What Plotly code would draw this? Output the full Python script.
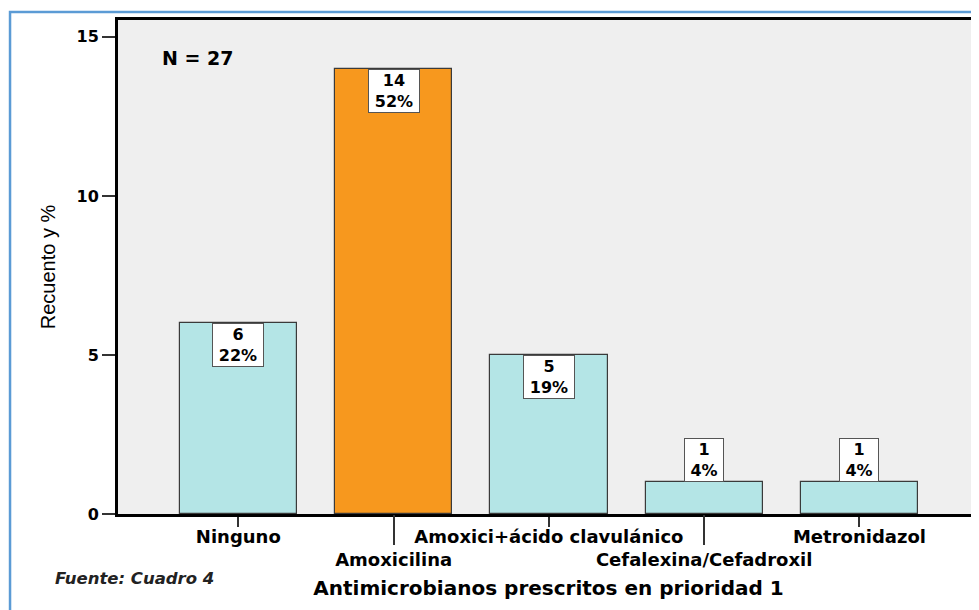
import plotly.graph_objects as go

# ---- data ----
categories = ["Ninguno", "Amoxicilina", "Amoxici+ácido clavulánico",
              "Cefalexina/Cefadroxil", "Metronidazol"]
counts = [6, 14, 5, 1, 1]
percents = [22, 52, 19, 4, 4]
label_row = [0, 1, 0, 1, 0]          # staggered category labels (0 = first line, 1 = second line)
highlight = [False, True, False, False, False]
y_ticks = [0, 5, 10, 15]
n_total = 27

# ---- styles ----
TEAL = "#B4E5E6"
ORANGE = "#F7981E"
PLOT_BG = "#EFEFEF"
BOLD = "DejaVu Sans"

xs = list(range(len(categories)))
colors = [ORANGE if h else TEAL for h in highlight]
ticktext = [("<br>" + c) if r else c for c, r in zip(categories, label_row)]
stagger_x = [x for x, r in zip(xs, label_row) if r]

fig = go.Figure()
fig.add_trace(go.Bar(
    x=xs, y=counts, width=0.755,
    marker=dict(color=colors, line=dict(color="#3a3a3a", width=1.2)),
    showlegend=False, hoverinfo="skip",
))
# helper trace for the second (long-tick) axis
fig.add_trace(go.Scatter(x=stagger_x, y=[0] * len(stagger_x), mode="none",
                         xaxis="x2", showlegend=False, hoverinfo="skip"))

annotations = []
for x, c, p in zip(xs, counts, percents):
    txt = f"<b>{c}<br>{p}%</b>"
    inside = c > 2
    annotations.append(dict(
        x=x, y=c, xref="x", yref="y", text=txt, showarrow=False,
        yanchor="top" if inside else "bottom", xanchor="center",
        font=dict(family=BOLD, size=16, color="black"),
        bgcolor="white", bordercolor="#555555", borderwidth=1, borderpad=1,
        width=12 * len(f"{p}%") + 12, align="center",
    ))
annotations.append(dict(
    x=0.0488, y=0.923, xref="paper", yref="paper", xanchor="left", yanchor="middle",
    text=f"<b>N = {n_total}</b>", showarrow=False,
    font=dict(family=BOLD, size=19, color="black"),
))
annotations.append(dict(
    x=-0.0755, y=-0.1296, xref="paper", yref="paper", xanchor="left", yanchor="middle",
    text="<b><i>Fuente: Cuadro 4</i></b>", showarrow=False,
    font=dict(family=BOLD, size=16.5, color="#222222"),
))

shapes = [
    # light right border of the plot area
    dict(type="line", xref="paper", yref="paper", x0=1, x1=1, y0=0, y1=1,
         line=dict(color="#BBBBBB", width=1.5)),
    # blue outer frame
    dict(type="rect", xref="paper", yref="paper", x0=-0.1254, x1=1.02,
         y0=-0.25, y1=1.0162, line=dict(color="#5B9BD5", width=2.5), layer="below"),
]

# the page adds an 8px body margin, so the figure is 8px smaller than the window
fig.update_layout(
    width=971, height=602,
    margin=dict(l=110, r=0, t=12, b=96),
    paper_bgcolor="white", plot_bgcolor=PLOT_BG,
    bargap=0,
    annotations=annotations, shapes=shapes,
    xaxis=dict(
        range=[-0.775, 4.77], tickmode="array", tickvals=xs, ticktext=ticktext,
        tickangle=0,
        ticks="outside", ticklen=10, tickwidth=1.5, tickcolor="#333333",
        ticklabelstandoff=-6,
        showline=True, linecolor="black", linewidth=3, mirror=True,
        showgrid=False, zeroline=False,
        tickfont=dict(family=BOLD, size=18, color="black", weight="bold"),
        title=dict(text="<b>Antimicrobianos prescritos en prioridad 1</b>",
                   font=dict(family=BOLD, size=20, color="black"),
                   standoff=12),
        automargin=False,
    ),
    xaxis2=dict(
        range=[-0.775, 4.77], overlaying="x", anchor="y", side="bottom",
        tickmode="array", tickvals=stagger_x, ticks="outside", ticklen=30,
        tickwidth=1.5, tickcolor="#333333", showticklabels=False,
        showline=False, showgrid=False, zeroline=False, automargin=False,
    ),
    yaxis=dict(
        range=[0, 15.53], tickmode="array", tickvals=y_ticks,
        ticks="outside", ticklen=13, tickwidth=1.5, tickcolor="#333333",
        showline=True, linecolor="black", linewidth=3,
        showgrid=False, zeroline=False,
        tickfont=dict(family=BOLD, size=16, color="black", weight="bold"),
        title=dict(text="Recuento y %",
                   font=dict(family="Liberation Sans", size=20, color="black"),
                   standoff=16),
        automargin=False,
    ),
)

fig.write_html("out.html")
